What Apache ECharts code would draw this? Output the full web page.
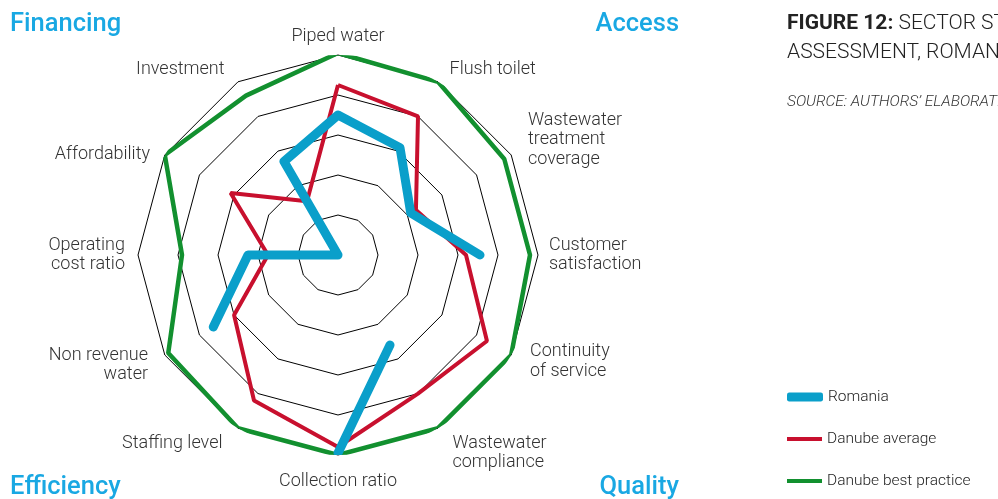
<!DOCTYPE html>
<html>
<head>
<meta charset="utf-8">
<script src="https://cdn.jsdelivr.net/npm/echarts@6/dist/echarts.min.js"></script>
<style>
  html, body { margin: 0; padding: 0; background: #fff; }
  #chart { width: 998px; height: 499px; }
</style>
</head>
<body>
<div id="chart"></div>
<script>
// indicators, clockwise from the top (Piped water)
const indicators = [
    'Piped water', 'Flush toilet', 'Wastewater\ntreatment\ncoverage', 'Customer\nsatisfaction',
    'Continuity\nof service', 'Wastewater\ncompliance', 'Collection ratio', 'Staffing level',
    'Non revenue\nwater', 'Operating\ncost ratio', 'Affordability', 'Investment'
];
// scores 0-5, null = not available
const romania = [3.5, 3.1, 2.1, 3.55, null, 2.6, 4.95, null, 3.6, 2.25, 0, 2.7];
const danubeAverage = [4.25, 4.0, 2.25, 3.2, 4.3, 4.0, 4.8, 4.2, 3.0, 1.75, 3.1, 1.55];
const danubeBest = [5.05, 5.0, 4.8, 4.8, 5.0, 5.0, 5.0, 5.0, 4.9, 3.9, 5.0, 4.6];
const seriesNames = ['Romania', 'Danube average', 'Danube best practice'];

const chart = echarts.init(document.getElementById('chart'));

const blue = '#0a9fca';
const red = '#c8102e';
const green = '#12902f';
const corner = '#19a8e3';
const font = 'Roboto';
const center = [338, 255];
const radius = 200;
const nameGap = 9;
// small hand nudges so the names sit like in the original layout
const labelNudge = [[0, 0], [7, -5], [9, -11], [2, 0], [11, 2], [10, 17],
    [0, 8], [-11, 8], [-9, 5.5], [-4, 0], [-7, 4], [-9, -5]];

const step = 360 / indicators.length;

// polar points [radius, angle], closed back to the start; nulls leave a gap
const toPolar = values => {
    const pts = values.map((v, i) => [v === null ? '-' : v, i * step]);
    pts.push([values[0] === null ? '-' : values[0], 360]);
    return pts;
};

// indicator names as text around the grid
const nameLabels = indicators.map((name, i) => {
    const a = (90 - i * step) * Math.PI / 180;
    const cos = Math.cos(a), sin = Math.sin(a);
    const r = radius + nameGap;
    let align = 'center', valign = 'middle';
    if (cos > 0.01) align = 'left';
    else if (cos < -0.01) align = 'right';
    else valign = sin > 0 ? 'bottom' : 'top';
    return {
        type: 'text',
        x: center[0] + r * cos + labelNudge[i][0],
        y: center[1] - r * sin + labelNudge[i][1],
        style: {
            text: name, fill: '#333', font: '300 18px ' + font, lineHeight: 19.5,
            textAlign: align, textVerticalAlign: valign
        }
    };
});

const cornerTitle = (text, pos) => Object.assign({
    text: text,
    padding: 0,
    textStyle: {fontSize: 25.5, fontWeight: 500, color: corner, fontFamily: font}
}, pos);

const legendItem = (name, top, w, h, icon) => ({
    data: [name], left: 787, top: top, padding: 0, itemWidth: w, itemHeight: h, icon: icon,
    textStyle: {fontSize: 15.5, color: '#222', fontWeight: 300, fontFamily: font}
});

const option = {
    animation: false,
    textStyle: {fontFamily: font},
    title: [
        cornerTitle('Financing', {left: 10, top: 12}),
        cornerTitle('Access', {right: 319, top: 12}),
        cornerTitle('Efficiency', {left: 10, top: 475}),
        cornerTitle('Quality', {right: 319, top: 475}),
        {
            text: '{b|FIGURE 12:} SECTOR STATUS\nASSESSMENT, ROMANIA',
            left: 787, top: 9, padding: 0,
            textStyle: {
                fontSize: 21, fontWeight: 300, color: '#222', lineHeight: 29, fontFamily: font,
                rich: {b: {fontSize: 21, fontWeight: 700, color: '#222', fontFamily: font, lineHeight: 29}}
            }
        },
        {
            text: 'SOURCE: AUTHORS\u2019 ELABORATION',
            left: 787, top: 94, padding: 0,
            textStyle: {fontSize: 15.5, fontWeight: 300, fontStyle: 'italic', color: '#333', fontFamily: font}
        }
    ],
    legend: [
        legendItem(seriesNames[0], 389, 36, 9, 'roundRect'),
        legendItem(seriesNames[1], 431, 35, 4, 'rect'),
        legendItem(seriesNames[2], 473, 35, 4, 'rect')
    ],
    // the radar only draws the polygon grid
    radar: {
        center: center,
        radius: radius,
        shape: 'polygon',
        splitNumber: 5,
        indicator: indicators.map(name => ({name: name, min: 0, max: 5})),
        axisName: {show: false},
        axisLine: {show: false},
        axisTick: {show: false},
        splitArea: {show: false},
        splitLine: {lineStyle: {color: '#000', width: 1}}
    },
    // polar system on the same spot so the lines can have gaps
    polar: {center: center, radius: radius},
    angleAxis: {type: 'value', min: 0, max: 360, startAngle: 90, clockwise: true, show: false},
    radiusAxis: {type: 'value', min: 0, max: 5, show: false},
    graphic: nameLabels,
    series: [
        {
            name: seriesNames[2], type: 'line', coordinateSystem: 'polar', symbol: 'none', clip: false,
            data: toPolar(danubeBest), color: green, lineStyle: {color: green, width: 4.5}
        },
        {
            name: seriesNames[1], type: 'line', coordinateSystem: 'polar', symbol: 'none', clip: false,
            data: toPolar(danubeAverage), color: red, lineStyle: {color: red, width: 4}
        },
        {
            name: seriesNames[0], type: 'line', coordinateSystem: 'polar', symbol: 'none', clip: false,
            connectNulls: false, data: toPolar(romania), color: blue,
            lineStyle: {color: blue, width: 9, cap: 'round', join: 'round'}
        }
    ]
};

chart.setOption(option);
</script>
</body>
</html>
